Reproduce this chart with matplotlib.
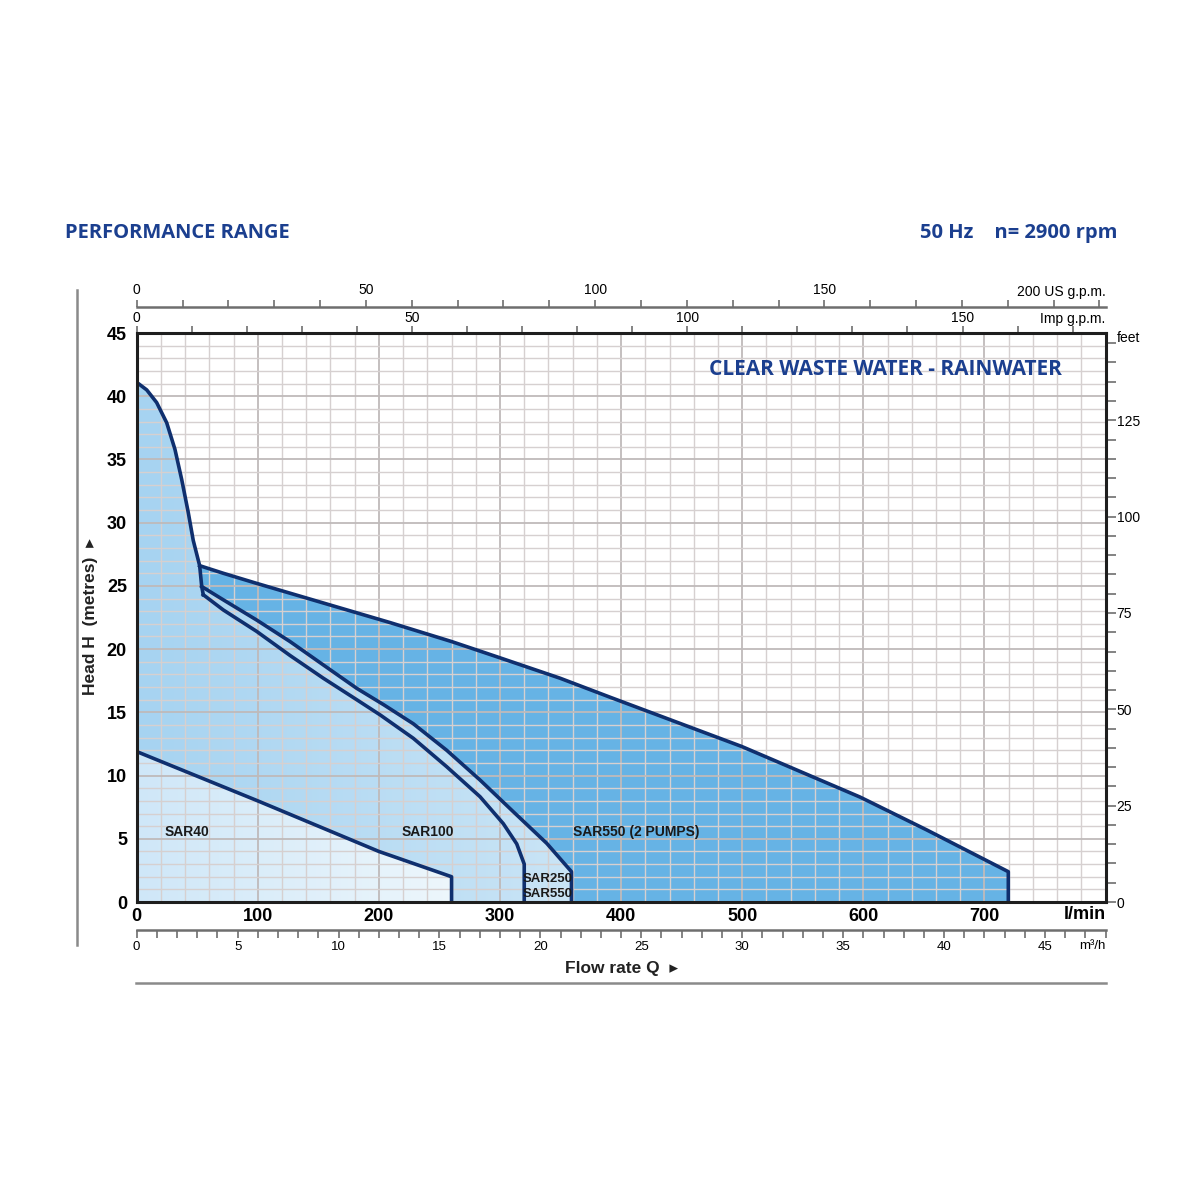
import numpy as np
import matplotlib
matplotlib.use('Agg')
import matplotlib.pyplot as plt
from matplotlib.patches import Polygon
from matplotlib.lines import Line2D
from matplotlib.colors import LinearSegmentedColormap

plt.rcParams['font.family'] = ['Liberation Sans Narrow', 'Liberation Sans', 'DejaVu Sans']

# curves: Q in l/min, H in metres
steep_q = [0, 8.3, 16.5, 24.8, 31.6, 37.2, 42.6, 46.7, 52.0, 53.7, 55.0]
steep_h = [41.1, 40.5, 39.5, 37.9, 35.8, 33.4, 30.8, 28.6, 26.6, 24.95, 24.3]

sar100_q = [55.0, 71.5, 99.1, 126.6, 154.1, 181.7, 201, 228.4, 256, 283.5, 302.7, 313.8, 320]
sar100_h = [24.3, 23.1, 21.4, 19.5, 17.7, 16.0, 14.8, 12.95, 10.7, 8.33, 6.2, 4.6, 3.0]

sar550_q = [53.7, 71.5, 99.1, 126.6, 154.1, 181.7, 204, 228.4, 256, 283.5, 311, 338.6, 359]
sar550_h = [24.95, 23.9, 22.3, 20.6, 18.75, 16.9, 15.6, 14.1, 12.0, 9.65, 7.14, 4.64, 2.4]

pumps2_q = [52.0, 71.5, 99.1, 154.1, 209.2, 260, 297.3, 349.6, 390.8, 499.6, 597.3, 652.4, 719.7]
pumps2_h = [26.6, 26.0, 25.2, 23.65, 22.1, 20.6, 19.4, 17.7, 16.2, 12.3, 8.3, 5.7, 2.4]

sar40_q = [0, 100, 200, 260]
sar40_h = [11.9, 8.0, 4.0, 2.0]

labels = ['SAR40', 'SAR100', 'SAR550 (2 PUMPS)']
label_q = [41.5, 240.5, 412.5]

navy = '#0f2f6e'
title_blue = '#1b3f8f'

fig = plt.figure(figsize=(12, 12), dpi=100)
ax = fig.add_axes([0.1139, 0.2483, 0.8074, 0.4742])
ax.set_xlim(0, 800)
ax.set_ylim(0, 45)


def grad_fill(qs, hs, c0, c1, x1, z):
    poly = Polygon(np.column_stack([qs, hs]), closed=True, facecolor='none',
                   edgecolor='none', transform=ax.transData)
    ax.add_patch(poly)
    cmap = LinearSegmentedColormap.from_list('g', [c0, c1])
    grad = np.linspace(0, 1, 256).reshape(1, -1)
    im = ax.imshow(grad, extent=[0, x1, 0, 45], aspect='auto', cmap=cmap,
                   origin='lower', zorder=z, interpolation='bilinear')
    im.set_clip_path(poly)


# medium blue: SAR550 with 2 pumps
q = pumps2_q + [pumps2_q[-1], pumps2_q[0]]
h = pumps2_h + [0, 0]
ax.fill(q, h, color='#66b3e5', zorder=1, lw=0)

# light blue: SAR100 / SAR250 / SAR550
q = steep_q[:-1] + sar550_q + [sar550_q[-1], 0]
h = steep_h[:-1] + sar550_h + [0, 0]
grad_fill(q, h, '#a6d3f1', '#cbe5f6', 370, 1.2)

# palest: SAR40
q = sar40_q + [sar40_q[-1], 0]
h = sar40_h + [0, 0]
grad_fill(q, h, '#cfe7f8', '#eef7fc', 270, 1.4)

# grid
ax.set_xticks(np.arange(0, 801, 100))
ax.set_xticks(np.arange(0, 801, 20), minor=True)
ax.set_yticks(np.arange(0, 46, 5))
ax.set_yticks(np.arange(0, 46, 1), minor=True)
ax.grid(which='minor', color='#d6d0d0', lw=1.0, zorder=2)
ax.grid(which='major', color='#bfbaba', lw=1.3, zorder=2)
ax.set_axisbelow(False)
for gl in ax.get_xgridlines() + ax.get_ygridlines():
    gl.set_zorder(2)

# curves
lw = 2.6
kw = dict(color=navy, lw=lw, zorder=4, solid_joinstyle='round')
ax.plot(steep_q, steep_h, **kw)
ax.plot(sar100_q + [sar100_q[-1]], sar100_h + [0], **kw)
ax.plot(sar550_q + [sar550_q[-1]], sar550_h + [0], **kw)
ax.plot(pumps2_q + [pumps2_q[-1]], pumps2_h + [0], **kw)
ax.plot(sar40_q + [sar40_q[-1]], sar40_h + [0], **kw)

for name, qq in zip(labels, label_q):
    ax.text(qq, 5.5, name, ha='center', va='center', fontsize=10,
            fontweight='bold', color='#1a1a1a', zorder=5)
ax.text(339.7, 1.85, 'SAR250', ha='center', va='center', fontsize=9.5,
        fontweight='bold', color='#1a1a1a', zorder=5)
ax.text(339.7, 0.65, 'SAR550', ha='center', va='center', fontsize=9.5,
        fontweight='bold', color='#1a1a1a', zorder=5)

ax.text(0.955, 0.935, 'CLEAR WASTE WATER - RAINWATER', transform=ax.transAxes,
        ha='right', va='center', fontsize=15, fontweight='bold',
        color=title_blue, family=['Open Sans', 'DejaVu Sans'], zorder=5)

# main axes styling
for s in ax.spines.values():
    s.set_linewidth(2.2)
    s.set_color('#1e1e1e')
    s.set_zorder(6)
ax.tick_params(which='both', length=0)
ax.tick_params(axis='y', pad=7, labelsize=13)
ax.tick_params(axis='x', pad=4, labelsize=13)
ax.set_xticklabels([str(v) for v in range(0, 800, 100)] + [''], fontweight='bold')
ax.set_yticklabels([str(v) for v in range(0, 46, 5)], fontweight='bold')
ax.text(800, -0.022, 'l/min', transform=ax.get_xaxis_transform(), ha='right',
        va='center', fontsize=13, fontweight='bold')

gray = '#6e6e6e'

# top: Imp g.p.m. on the frame
imp = ax.secondary_xaxis('top', functions=(lambda x: x / 4.54609, lambda g: g * 4.54609))
imp.set_xticks(np.arange(0, 176, 10))
imp.set_xticklabels([str(v) if v % 50 == 0 else '' for v in range(0, 176, 10)])
imp.tick_params(length=5, width=1.2, color=gray, labelsize=10, pad=1)
imp.spines['top'].set_visible(False)
ax.text(1.0, 1.012, 'Imp g.p.m.', transform=ax.transAxes, ha='right',
        va='bottom', fontsize=10)

# top: US g.p.m.
usg = ax.secondary_xaxis(1.0462, functions=(lambda x: x / 3.78541, lambda g: g * 3.78541))
usg.set_xticks(np.arange(0, 211, 10))
usg.set_xticklabels([str(v) if v % 50 == 0 and v < 200 else '' for v in range(0, 211, 10)])
usg.tick_params(length=5, width=1.2, color=gray, labelsize=10, pad=2)
usg.spines['top'].set_color(gray)
usg.spines['top'].set_linewidth(1.8)
ax.text(1.0, 1.06, '200 US g.p.m.', transform=ax.transAxes, ha='right',
        va='bottom', fontsize=10)

# bottom: m3/h
m3h = ax.secondary_xaxis(-0.049, functions=(lambda x: x * 0.06, lambda m: m / 0.06))
m3h.set_xticks(np.arange(0, 49, 1))
m3h.set_xticklabels([str(v) if v % 5 == 0 else '' for v in range(0, 49)])
m3h.tick_params(length=6, width=1.2, color=gray, labelsize=9.5, pad=2)
m3h.spines['bottom'].set_color(gray)
m3h.spines['bottom'].set_linewidth(1.8)
ax.text(1.0, -0.066, 'm³/h', transform=ax.transAxes, ha='right', va='top',
        fontsize=9.5)

# right: feet
ft = ax.secondary_yaxis('right', functions=(lambda m: m * 3.28084, lambda f: f / 3.28084))
ft.set_yticks(np.arange(0, 146, 5))
ft.set_yticklabels([str(v) if v % 25 == 0 else '' for v in range(0, 146, 5)])
ft.tick_params(length=7, width=1.2, color=gray, labelsize=10, pad=1)
ft.spines['right'].set_visible(False)
ax.text(1.012, 0.992, 'feet', transform=ax.transAxes, ha='left', va='center',
        fontsize=10)

# axis titles
fig.text(0.075, 0.486, 'Head H  (metres)  \u25b8', rotation=90, ha='center',
         va='center', fontsize=12.5, fontweight='bold', color='#222222')
fig.text(0.518, 1 - 968 / 1200, 'Flow rate Q  \u25b8', ha='center', va='center',
         fontsize=12.5, fontweight='bold', color='#222222')

# frame lines of the sheet
fig.add_artist(Line2D([77 / 1200, 77 / 1200], [1 - 290 / 1200, 1 - 945 / 1200],
                      color='#8a8a8a', lw=1.8))
fig.add_artist(Line2D([136 / 1200, 1106 / 1200], [1 - 983 / 1200, 1 - 983 / 1200],
                      color='#8a8a8a', lw=1.8))

# headers
fig.text(65 / 1200, 1 - 233 / 1200, 'PERFORMANCE RANGE', ha='left', va='center',
         fontsize=14.5, fontweight='bold', color=title_blue,
         family=['Open Sans', 'DejaVu Sans'])
fig.text(1117 / 1200, 1 - 233 / 1200, '50 Hz    n= 2900 rpm', ha='right',
         va='center', fontsize=14.5, fontweight='bold', color=title_blue,
         family=['Open Sans', 'DejaVu Sans'])

fig.savefig('out.png', dpi=100, facecolor='white')
